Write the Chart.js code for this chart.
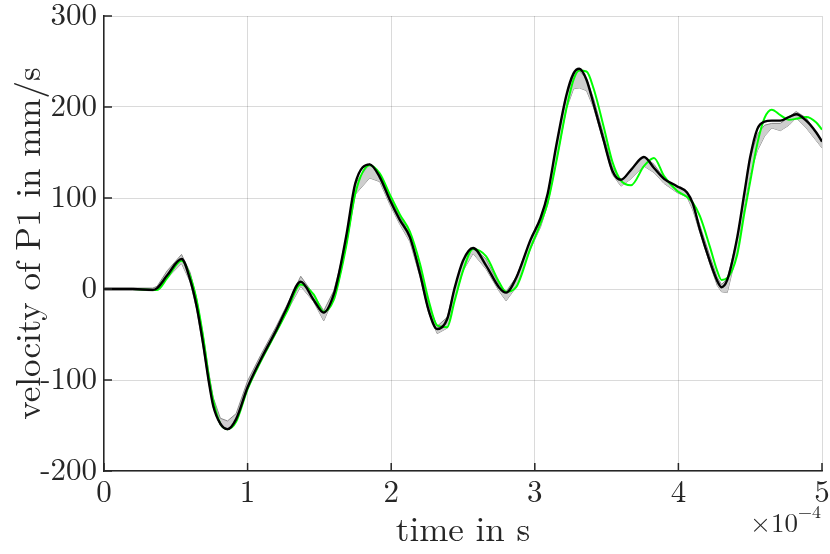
<!DOCTYPE html>
<html>
<head>
<meta charset="utf-8">
<script src="https://cdn.jsdelivr.net/npm/chart.js@4.4.1/dist/chart.umd.min.js"></script>
<style>
  html, body { margin: 0; padding: 0; background: #fff; }
  #wrap { width: 830px; height: 554px; }
</style>
</head>
<body>
<div id="wrap"><canvas id="velChart" width="830" height="554"></canvas></div>
<script>
// time in units of 1e-4 s
const timeE4 = [0, 0.2, 0.34, 0.37, 0.44, 0.54, 0.6, 0.645, 0.69, 0.73, 0.76, 0.81, 0.86, 0.92, 1.0, 1.09, 1.2, 1.27, 1.37, 1.46,
  1.53, 1.6, 1.64, 1.69, 1.75, 1.85, 1.92, 1.99, 2.06, 2.13, 2.2, 2.26, 2.32, 2.39, 2.44, 2.5, 2.57, 2.66, 2.75, 2.8,
  2.87, 2.97, 3.04, 3.09, 3.15, 3.22, 3.27, 3.31, 3.36, 3.41, 3.48, 3.54, 3.6, 3.67, 3.76, 3.83, 3.9, 3.99, 4.06, 4.1,
  4.15, 4.22, 4.27, 4.3, 4.34, 4.41, 4.46, 4.5, 4.55, 4.6, 4.65, 4.71, 4.77, 4.82, 4.89, 4.96, 5.0];

// velocity in mm/s
const velBlack = [0, 0, -1, 1, 15, 33, 10, -19, -60, -102, -128, -148, -154, -143, -108, -78, -45, -22, 8, -12,
  -26, -6, 20, 61, 116, 137, 123, 98, 76, 57, 17, -23, -44, -33, 0, 31, 45, 26, 2, -4,
  12, 54, 78, 105, 158, 213, 237, 242, 230, 203, 163, 130, 120, 131, 145, 133, 121, 113, 106, 94,
  65, 30, 9, 2, 10, 57, 106, 145, 176, 184, 185, 185, 189, 192, 185, 172, 162];

const velGreen = [0, 0, -1, -1, 12, 31, 14, -12, -52, -96, -122, -148, -154, -146, -110, -80, -47, -26, 5, -6,
  -25, -12, 12, 50, 105, 136, 127, 104, 82, 63, 28, -12, -40, -42, -14, 20, 44, 36, 8, -3,
  2, 45, 72, 95, 140, 198, 230, 240, 239, 220, 178, 140, 119, 114, 135, 144, 124, 108, 101, 95,
  80, 46, 20, 10, 12, 38, 84, 118, 160, 188, 197, 191, 186, 187, 189, 183, 175];

const bandLow = [-1, -1, -2, -1, 12, 28, 8, -22, -64, -104, -130, -150, -155, -145, -110, -80, -48, -26, 3, -14,
  -35, -10, 12, 50, 104, 122, 118, 93, 71, 52, 14, -26, -49, -43, -12, 20, 39, 22, -2, -13,
  2, 44, 68, 93, 140, 198, 220, 221, 218, 199, 161, 126, 113, 121, 135, 128, 116, 106, 101, 87,
  62, 27, 4, -3, -4, 42, 92, 126, 152, 168, 177, 174, 180, 188, 177, 163, 155];

const bandHigh = [1, 1, 1, 3, 20, 38, 18, -10, -50, -92, -119, -142, -145, -137, -101, -73, -41, -19, 14, -6,
  -24, -2, 22, 60, 116, 138, 126, 101, 80, 60, 23, -17, -41, -31, 1, 31, 46, 33, 5, -3,
  13, 54, 78, 104, 157, 212, 236, 240, 231, 209, 169, 134, 119, 131, 146, 137, 122, 112, 107, 93,
  70, 36, 13, 5, 11, 56, 105, 144, 170, 180, 182, 182, 189, 195, 188, 172, 161];

const xTicks = [0, 1, 2, 3, 4, 5];
const yTicks = [-200, -100, 0, 100, 200, 300];

const pts = vals => vals.map((v, i) => ({ x: timeE4[i], y: v }));

const axisColor = '#262626';
const serif = '"Latin Modern Roman"';

// no automatic label overflow padding: the layout padding decides the plot box
const noPad = s => { s.paddingTop = 0; s.paddingBottom = 0; s.paddingLeft = 0; s.paddingRight = 0; };

const matlabTicks = {
  id: 'matlabTicks',
  afterDraw(chart) {
    const { ctx, chartArea: a, scales: { x, y } } = chart;
    ctx.save();
    ctx.strokeStyle = axisColor;
    ctx.lineWidth = 1.5;
    ctx.beginPath();
    xTicks.forEach(v => {
      const px = x.getPixelForValue(v);
      ctx.moveTo(px, a.bottom);
      ctx.lineTo(px, a.bottom - 8);
    });
    yTicks.forEach(v => {
      const py = y.getPixelForValue(v);
      ctx.moveTo(a.left, py);
      ctx.lineTo(a.left + 8, py);
    });
    ctx.stroke();

    // x10^-4 multiplier under the right end of the axis
    ctx.fillStyle = axisColor;
    ctx.textAlign = 'right';
    ctx.textBaseline = 'alphabetic';
    ctx.font = '18px ' + serif;
    const sup = '\u22124';
    const w = ctx.measureText(sup).width;
    const rx = a.right - 1;
    ctx.fillText(sup, rx, 518);
    ctx.font = '27px ' + serif;
    ctx.fillText('\u00d710', rx - w, 532);
    ctx.restore();
  }
};

const ctx = document.getElementById('velChart').getContext('2d');
new Chart(ctx, {
  type: 'line',
  data: {
    datasets: [
      {
        label: 'black',
        order: 0,
        data: pts(velBlack),
        borderColor: '#000000',
        borderWidth: 2.4,
        pointRadius: 0,
        cubicInterpolationMode: 'monotone',
        fill: false
      },
      {
        label: 'green',
        order: 1,
        data: pts(velGreen),
        borderColor: '#00ff00',
        borderWidth: 2,
        pointRadius: 0,
        cubicInterpolationMode: 'monotone',
        fill: false
      },
      {
        label: 'max',
        order: 2,
        data: pts(bandHigh),
        borderColor: 'rgb(135,135,135)',
        borderWidth: 1,
        backgroundColor: 'rgb(206,206,206)',
        pointRadius: 0,
        tension: 0,
        fill: '+1'
      },
      {
        label: 'min',
        order: 3,
        data: pts(bandLow),
        borderColor: 'rgb(135,135,135)',
        borderWidth: 1,
        pointRadius: 0,
        tension: 0,
        fill: false
      }
    ]
  },
  options: {
    responsive: false,
    animation: false,
    devicePixelRatio: 1,
    layout: { padding: { top: 16, right: 8, left: 0, bottom: 0 } },
    plugins: {
      legend: { display: false },
      tooltip: { enabled: false }
    },
    scales: {
      x: {
        type: 'linear',
        min: 0,
        max: 5,
        afterFit: s => { s.height = 83; noPad(s); },
        afterBuildTicks: s => { s.ticks = xTicks.map(v => ({ value: v })); },
        ticks: {
          color: axisColor,
          padding: 6,
          maxRotation: 0,
          font: { family: serif, size: 31, lineHeight: 1 }
        },
        grid: { color: 'rgba(38,38,38,0.17)', lineWidth: 1, drawTicks: false },
        border: { color: axisColor, width: 1.5 },
        title: {
          display: true,
          text: 'time in s',
          color: axisColor,
          font: { family: serif, size: 35, lineHeight: 1.2 },
          padding: { top: 0, bottom: 3 }
        }
      },
      y: {
        min: -200,
        max: 300,
        afterFit: s => { s.width = 104; noPad(s); },
        afterBuildTicks: s => { s.ticks = yTicks.map(v => ({ value: v })); },
        ticks: {
          color: axisColor,
          padding: 7,
          font: { family: serif, size: 31, lineHeight: 1 },
          callback: v => String(v)
        },
        grid: { color: 'rgba(38,38,38,0.17)', lineWidth: 1, drawTicks: false },
        border: { color: axisColor, width: 1.5 },
        title: {
          display: true,
          text: 'velocity of P1 in mm/s',
          color: axisColor,
          font: { family: serif, size: 35, lineHeight: 1.2 },
          padding: { top: 8, bottom: 0 }
        }
      }
    }
  },
  plugins: [matlabTicks]
});
</script>
</body>
</html>
